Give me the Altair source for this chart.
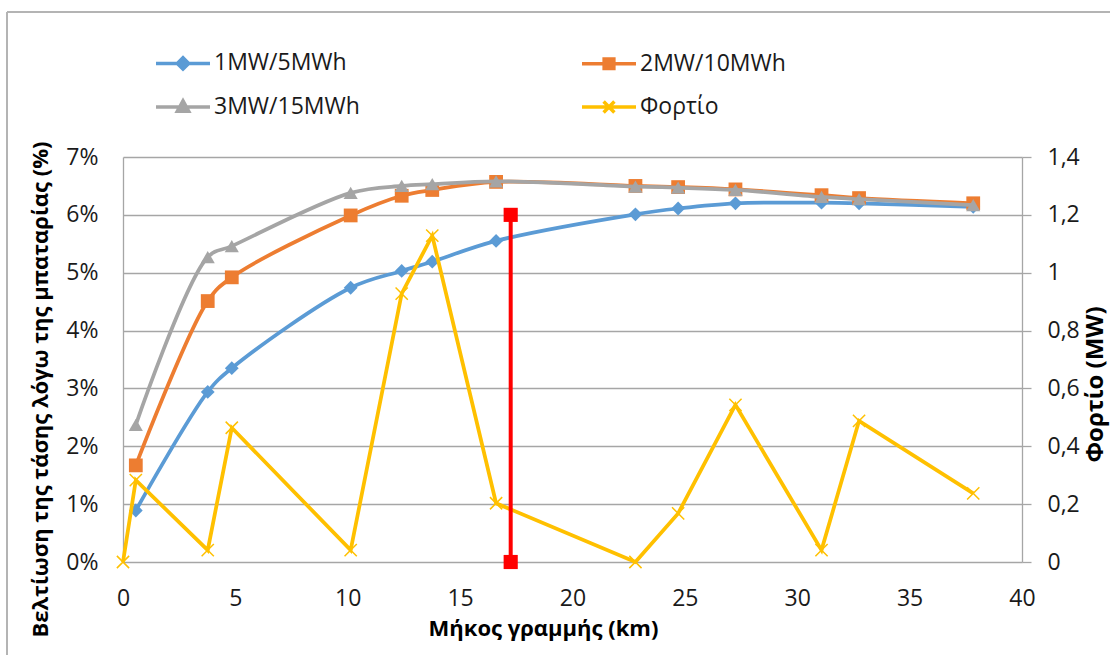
import altair as alt
import pandas as pd

# Distance along the feeder (km) of each bus
bus_km = [0.57, 3.77, 4.84, 10.13, 12.4, 13.76, 16.6, 22.8, 24.7, 27.25, 31.08, 32.75, 37.83]

# Voltage improvement (%) for each battery size
gain_1mw = [0.89, 2.94, 3.35, 4.74, 5.03, 5.19, 5.55, 6.01, 6.11, 6.20, 6.21, 6.20, 6.14]
gain_2mw = [1.67, 4.51, 4.92, 5.99, 6.33, 6.43, 6.57, 6.50, 6.48, 6.44, 6.34, 6.29, 6.20]
gain_3mw = [2.37, 5.27, 5.46, 6.38, 6.50, 6.53, 6.58, 6.49, 6.47, 6.43, 6.31, 6.27, 6.17]

# Load (MW) along the feeder, starting at the substation (0 km)
load_km = [0] + bus_km
load_mw = [0, 0.283, 0.041, 0.464, 0.041, 0.928, 1.128, 0.203, 0, 0.168, 0.543, 0.041, 0.488, 0.237]

# Battery location marker
battery_km = 17.25
battery_span = [0, 6]

series_names = ["1MW/5MWh", "2MW/10MWh", "3MW/15MWh", "Φορτίο"]
series_colors = ["#5b9bd5", "#ed7d31", "#a5a5a5", "#ffc000"]

left_ticks = [0, 1, 2, 3, 4, 5, 6, 7]
right_ticks = [0, 0.2, 0.4, 0.6, 0.8, 1.0, 1.2, 1.4]
x_ticks = [0, 5, 10, 15, 20, 25, 30, 35, 40]

FONT = "Open Sans"
GRID = "#a6a6a6"
TXT = "#1a1a1a"

# legend symbols: a line segment with the series marker on top
legend_paths = [
    "M-2,0H2M0,-0.42L0.42,0L0,0.42L-0.42,0Z",
    "M-2,0H2M-0.36,-0.36H0.36V0.36H-0.36Z",
    "M-2,0H2M0,-0.45L0.42,0.32L-0.42,0.32Z",
    "M-2,0H2M-0.4,-0.4L0.4,0.4M-0.4,0.4L0.4,-0.4",
]
x_marker = "M-1,-1L1,1M-1,1L1,-1"

# the legend grid fills column by column, so list entries in that order
legend_order = [0, 2, 1, 3]
legend_names = [series_names[i] for i in legend_order]
legend_colors = [series_colors[i] for i in legend_order]
legend_shapes = [legend_paths[i] for i in legend_order]


def x_enc():
    return alt.X(
        "km:Q",
        scale=alt.Scale(domain=[0, 40], nice=False),
        axis=alt.Axis(
            values=x_ticks, grid=False, ticks=False, tickSize=0, domain=False,
            labelFlush=False, labelPadding=25, title="Μήκος γραμμής (km)",
            titleX=420, titleY=66, titleBaseline="middle",
        ),
    )


def y_left():
    return alt.Y(
        "gain:Q",
        scale=alt.Scale(domain=[0, 7], nice=False),
        axis=alt.Axis(
            values=left_ticks, labelExpr="datum.value + '%'",
            ticks=False, tickSize=0, domain=True, domainColor=GRID, domainWidth=1.3,
            grid=True, gridColor=GRID, gridWidth=1.3, labelPadding=25,
            title="Βελτίωση της τάσης λόγω της μπαταρίας (%)",
            titleAngle=270, titleX=-83, titleY=232, titleBaseline="middle",
        ),
    )


def battery_frame(values, name):
    return pd.DataFrame({"km": bus_km, "gain": values, "series": name})


frames = [battery_frame(v, n) for v, n in zip([gain_1mw, gain_2mw, gain_3mw], series_names[:3])]
marker_shapes = ["diamond", "square", "triangle-up"]
marker_sizes = [190, 190, 200]

battery_layers = []
for df, col, shp, sz in zip(frames, series_colors[:3], marker_shapes, marker_sizes):
    base = alt.Chart(df)
    battery_layers.append(
        base.mark_line(color=col, strokeWidth=3.75, interpolate="catmull-rom").encode(x=x_enc(), y=y_left())
    )
    battery_layers.append(
        base.mark_point(shape=shp, filled=True, size=sz, color=col, opacity=1).encode(x=x_enc(), y=y_left())
    )

legend_def = alt.Legend(
    orient="none", legendX=44.5, legendY=-109.5, columns=2, columnPadding=214,
    rowPadding=15, symbolSize=729, symbolStrokeWidth=3.5, symbolOpacity=1,
    labelFont=FONT, labelFontSize=23, labelColor=TXT, labelOffset=15.5,
    labelLimit=300, padding=0, title=None,
)
legend_df = pd.DataFrame({"series": legend_names})
legend_layer = alt.Chart(legend_df).mark_point(filled=True, opacity=0).encode(
    x=alt.value(0),
    y=alt.value(0),
    fill=alt.Fill("series:N", sort=legend_names,
                  scale=alt.Scale(domain=legend_names, range=legend_colors), legend=legend_def),
    stroke=alt.Stroke("series:N", sort=legend_names,
                      scale=alt.Scale(domain=legend_names, range=legend_colors), legend=legend_def),
    shape=alt.Shape("series:N", sort=legend_names,
                    scale=alt.Scale(domain=legend_names, range=legend_shapes), legend=legend_def),
)

# chart-area frame (top and left edges)
frame_df = pd.DataFrame({"k": [0]})
frame_top = alt.Chart(frame_df).mark_rule(color="#b4b4b4", strokeWidth=2, strokeCap="butt").encode(
    x=alt.value(-116), x2=alt.value(987), y=alt.value(-145)
)
frame_left = alt.Chart(frame_df).mark_rule(color="#b4b4b4", strokeWidth=2, strokeCap="butt").encode(
    x=alt.value(-116), y=alt.value(-145), y2=alt.value(498)
)

left_group = alt.layer(*battery_layers, legend_layer, frame_top, frame_left)

# load on the secondary axis
load_df = pd.DataFrame({"km": load_km, "load": load_mw})
y_right = alt.Y(
    "load:Q",
    scale=alt.Scale(domain=[0, 1.4], nice=False),
    axis=alt.Axis(
        orient="right", values=right_ticks,
        labelExpr="replace(format(datum.value, '.1~f'), '.', ',')",
        ticks=True, tickSize=9, tickColor=GRID, tickWidth=1.3,
        domain=True, domainColor=GRID, domainWidth=1.3, grid=False, labelPadding=16,
        title="Φορτίο (MW)", titleAngle=270, titleX=73, titleY=227, titleBaseline="middle",
        titleFontSize=24,
    ),
)
load_base = alt.Chart(load_df)
right_group = alt.layer(
    load_base.mark_line(color="#ffc000", strokeWidth=3.75).encode(x=x_enc(), y=y_right),
    load_base.mark_point(shape=x_marker, filled=False, size=150, strokeWidth=1.5,
                         color="#ffc000", opacity=1).encode(x=x_enc(), y=y_right),
)

# battery position: vertical bar from 0% to 6%
bat_rule_df = pd.DataFrame({"km": [battery_km], "lo": [battery_span[0]], "hi": [battery_span[1]]})
bat_pts_df = pd.DataFrame({"km": [battery_km, battery_km], "v": battery_span})
y_bat_scale = alt.Scale(domain=[0, 7], nice=False)
red_group = alt.layer(
    alt.Chart(bat_rule_df).mark_rule(color="#ff0000", strokeWidth=4).encode(
        x=x_enc(), y=alt.Y("lo:Q", scale=y_bat_scale, axis=None), y2="hi:Q"
    ),
    alt.Chart(bat_pts_df).mark_point(shape="square", filled=True, size=200, color="#ff0000", opacity=1).encode(
        x=x_enc(), y=alt.Y("v:Q", scale=y_bat_scale, axis=None)
    ),
)

chart = (
    alt.layer(left_group, right_group, red_group)
    .resolve_scale(y="independent")
    .properties(
        width=899, height=405,
        autosize=alt.AutoSizeParams(type="none"),
        padding={"left": 123, "top": 157, "right": 88, "bottom": 93},
        background="white",
    )
    .configure_view(stroke="transparent")
    .configure_axis(
        labelFont=FONT, labelFontSize=23, labelColor=TXT,
        titleFont=FONT, titleFontSize=22, titleFontWeight="bold", titleColor="#000000",
    )
)

chart.save("out.html", embed_options={"renderer": "svg", "actions": False})
